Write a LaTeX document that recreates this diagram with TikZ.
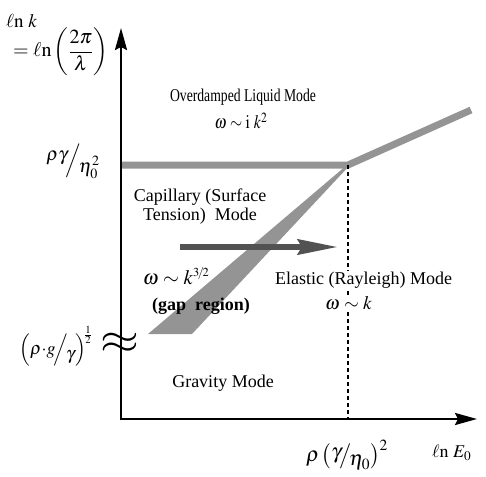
\documentclass[tikz,border=0pt]{standalone}
\usepackage{mathptmx}
\usepackage{fontspec}
\setmainfont{Liberation Serif}
\usetikzlibrary{arrows.meta,calc}
\begin{document}
\begin{tikzpicture}[x=1pt,y=-1pt,
  lbl/.style={inner sep=0pt, font=\fontsize{18}{19}\selectfont, align=center},
  mth/.style={inner sep=0pt, font=\fontsize{19}{21}\selectfont},
  knock/.style={fill=white, inner ysep=1pt, inner xsep=0pt},
  axis/.style={line width=2.4pt, -{Stealth[length=22pt,width=12pt,inset=3pt]}},
  band/.style={black!42},
  bigarrow/.style={black!68, line width=6pt, -{Stealth[length=40pt,width=15pt,inset=4pt]}},
  guide/.style={line width=1.3pt, dash pattern=on 4pt off 3pt}]
\useasboundingbox (0,0) rectangle (486,476);
\coordinate (O) at (121,419);
\coordinate (ytop) at (121,28);
\coordinate (xend) at (477,419);
\coordinate (J) at (348,165);
\coordinate (B0) at (121,165);
\coordinate (B1) at (471,110);
\coordinate (S1) at (148,334);
\coordinate (S2) at (192,334);
\coordinate (A0) at (180,247);
\coordinate (A1) at (338,247);
% bands
\draw[band, line width=7pt] (B0) -- (J) -- (B1);
\fill[band] ($(J)+(-1,0)$) -- (S1) -- (S2) -- ($(J)+(2,0)$) -- cycle;
% dashed guide
\draw[guide] (J) -- (O -| J);
% axes
\draw[axis] (O) -- (ytop);
\draw[axis] ($(O)+(-1.2,0)$) -- (xend);
% big arrow
\draw[bigarrow] (A0) -- (A1);
% labels
\node[mth, anchor=west] (lk) at (6,21) {$\ell\mathrm{n}\ k$};
\node[mth, font=\fontsize{20}{22}\selectfont, anchor=west] (lk2) at (13,52) {$=\ell\mathrm{n}\left(\displaystyle\frac{2\pi}{\lambda}\right)$};
\node[mth] (rg) at (73,161) {$\raisebox{5pt}{$\rho\gamma$}\!\Big/\!\raisebox{-7pt}{$\eta_0^2$}$};
\node[mth, font=\fontsize{18}{20}\selectfont] (rgg) at (56,346) {$\left(\rho{\cdot}g\!\Big/\!\raisebox{-5pt}{$\gamma$}\right)^{\!\frac{1}{2}}$};
\node[inner sep=0pt] (brk) at (120,343) {\scalebox{5}[4.2]{$\approx$}};
\node[lbl] (od) at (243,97) {\scalebox{0.76}[1]{Overdamped Liquid Mode}};
\node[mth] (od2) at (241,121) {\scalebox{0.82}[1]{$\omega\sim\mathrm{i}\ k^2$}};
\node[lbl] (cap) at (200,207) {Capillary (Surface\\ Tension)\ \ Mode};
\node[mth, font=\fontsize{20.5}{22}\selectfont] (cap2) at (176,276) {$\omega\sim k^{\scriptscriptstyle 3\!/\!2}$};
\node[lbl, font=\fontsize{18}{19}\selectfont\bfseries] (gap) at (201,306) {(gap\ \ region)};
\node[lbl, knock, anchor=west] (el) at (275,280) {Elastic (Rayleigh) Mode};
\node[mth, knock, anchor=west] (el2) at (325,303) {$\omega\sim k$};
\node[lbl] (gr) at (223,383) {Gravity Mode};
\node[mth, font=\fontsize{21}{23}\selectfont] (xl) at (347,455) {$\rho\left(\raisebox{3pt}{$\gamma$}\!\big/\!\raisebox{-4pt}{$\eta_0$}\right)^2$};
\node[mth, font=\fontsize{18}{20}\selectfont, anchor=west] (xl2) at (432,453) {$\ell\mathrm{n}\ E_0$};
\end{tikzpicture}
\end{document}
